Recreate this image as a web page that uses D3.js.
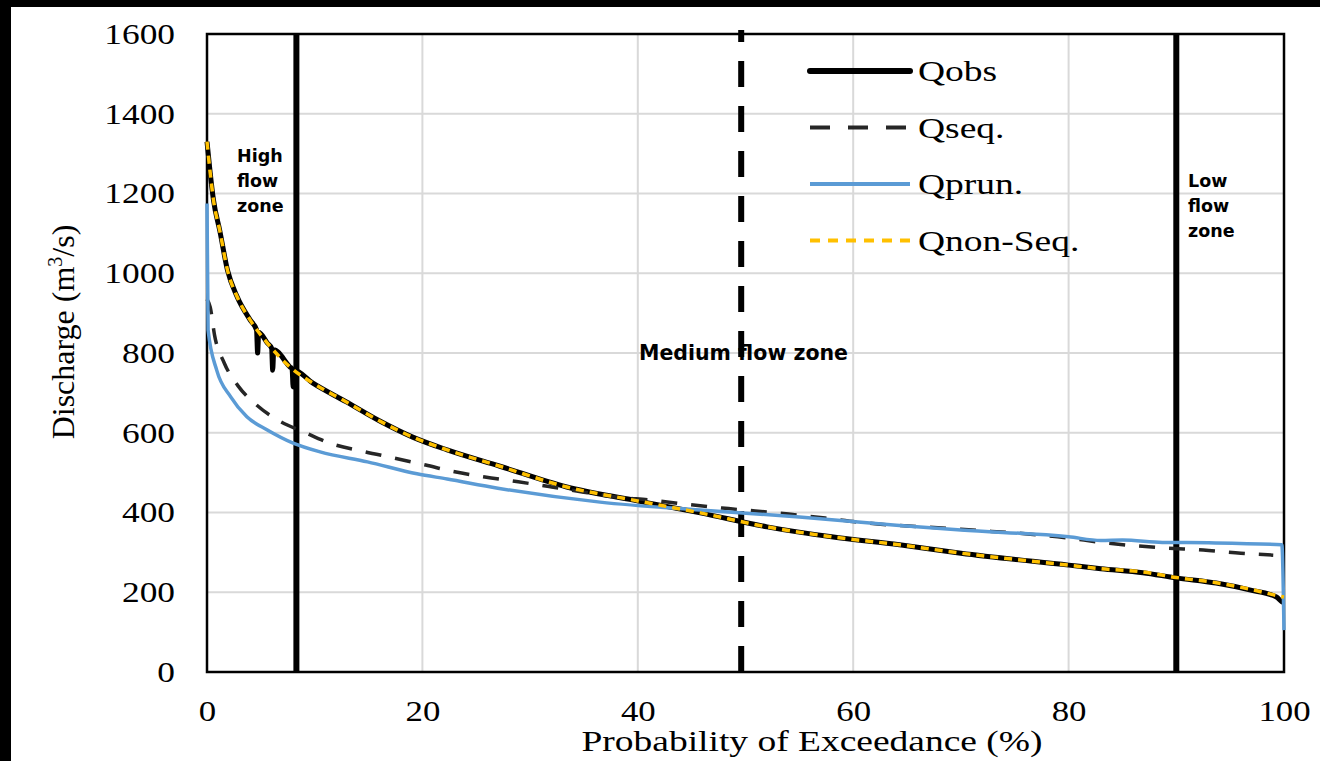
<!DOCTYPE html>
<html>
<head>
  <meta charset="utf-8" />
  <title>Flow duration curve</title>
  <style type="text/css">
    body { margin: 0; background: #000; }
    svg { display: block; }
  </style>
</head>
<body>
<div id="chart"></div>
<script src="https://d3js.org/d3.v7.min.js"></script>
<script>
// exceedance probability (%) , discharge (m3/s)
var qobs = [[0,1330],[0.3,1251],[0.6,1184],[1.2,1105],[1.9,1008],[2.8,941],[4.0,883],[4.6,858],[4.7,800],[4.8,852],
  [5.6,825],[6.0,812],[6.1,757],[6.2,808],[7.7,765],[7.9,760],[8.0,715],[8.1,757],[9.8,725],[12.9,678],[16.0,630],
  [19.1,589],[22.3,557],[27.2,516],[33.4,464],[39.6,431],[45.8,399],[52,364],[58,339],[64.3,319],[70,298],
  [80,268],[83,259],[86.9,249],[90,236],[93.7,223],[96.8,206],[99.3,188],[99.8,176],[100,174]];
var qseq = [[0,935],[0.3,915],[0.7,845],[1.6,775],[2.9,717],[4.5,672],[6.7,630],[9.0,602],[11.4,574],[14.7,552],
  [17.3,537],[20.3,519],[23,502],[25.8,489],[28.9,477],[32,464],[35,451],[38,439],[41.3,431],[44.4,421],
  [47.8,411],[50.9,404],[54,396],[57.4,386],[60.4,376],[70,358],[80,336],[83,325],[89,311],[92.5,306],
  [96,298],[99,293]];
var qprun = [[0,1175],[0.1,858],[0.9,757],[2.2,690],[3.7,640],[5.6,607],[8.0,574],[10.5,552],[14.9,527],
  [19.5,497],[22.3,484],[27,461],[36.5,426],[45.8,406],[55,389],[64,368],[70,356],[80,339],[83,330],
  [85,331],[88.7,325],[93,324],[99.8,319],[100,105]];
var qnonseq = [[0,1330],[0.3,1251],[0.6,1184],[1.2,1105],[1.9,1008],[2.8,941],[4.0,883],[5.6,825],[7.7,765],
  [9.8,725],[12.9,678],[16.0,630],[19.1,589],[22.3,557],[27.2,516],[33.4,464],[39.6,431],[45.8,399],[52,364],
  [58,339],[64.3,319],[70,298],[80,268],[83,259],[86.9,251],[90,237],[93.7,224],[96.8,208],[99.3,192],[100,188]];

var xTicks = [0, 20, 40, 60, 80, 100];
var yTicks = [0, 200, 400, 600, 800, 1000, 1200, 1400, 1600];
var zoneBounds = [8.3, 49.6, 90];
var legendNames = ["Qobs", "Qseq.", "Qprun.", "Qnon-Seq."];

var W = 1320, H = 761;
var margin = {top: 34, right: 36, bottom: 89, left: 207};
var w = W - margin.left - margin.right, h = H - margin.top - margin.bottom;

var svg = d3.select("#chart").append("svg").attr("width", W).attr("height", H);
// white page with black edge on top/left
svg.append("rect").attr("width", W).attr("height", H).attr("fill", "#000");
svg.append("rect").attr("x", 11).attr("y", 7).attr("width", W - 11).attr("height", H - 7).attr("fill", "#fff");

var g = svg.append("g").attr("transform", "translate(" + margin.left + "," + margin.top + ")");

var x = d3.scaleLinear().domain([0, 100]).range([0, w]);
var y = d3.scaleLinear().domain([0, 1600]).range([h, 0]);

// grid
g.append("g").selectAll("line").data(yTicks.slice(1, -1)).enter().append("line")
  .attr("x1", 0).attr("x2", w).attr("y1", y).attr("y2", y)
  .attr("stroke", "#d9d9d9").attr("stroke-width", 2);
g.append("g").selectAll("line").data(xTicks.slice(1, -1)).enter().append("line")
  .attr("y1", 0).attr("y2", h).attr("x1", x).attr("x2", x)
  .attr("stroke", "#d9d9d9").attr("stroke-width", 2);

// zone boundaries (middle one dashed, drawn from the bottom up)
g.append("g").selectAll("line").data(zoneBounds).enter().append("line")
  .attr("x1", x).attr("x2", x).attr("y1", h).attr("y2", function(d, i) { return i == 1 ? -4 : 0; })
  .attr("stroke", "#000").attr("stroke-width", 6)
  .attr("stroke-dasharray", function(d, i) { return i == 1 ? "26,19" : null; });

// plot frame
g.append("rect").attr("width", w).attr("height", h)
  .attr("fill", "none").attr("stroke", "#000").attr("stroke-width", 2.5);

var line = d3.line().x(function(d) { return x(d[0]); }).y(function(d) { return y(d[1]); })
  .curve(d3.curveMonotoneX);

var series = [
  {name: "Qobs", data: qobs, color: "#000", width: 5, dash: null},
  {name: "Qseq.", data: qseq, color: "#262626", width: 3.5, dash: "16,14"},
  {name: "Qprun.", data: qprun, color: "#5b9bd5", width: 3.5, dash: null},
  {name: "Qnon-Seq.", data: qnonseq, color: "#ffc000", width: 3.5, dash: "8,6"}
];

g.selectAll(".series").data(series).enter().append("path")
  .attr("class", "series")
  .attr("d", function(d) { return line(d.data); })
  .attr("fill", "none")
  .attr("stroke", function(d) { return d.color; })
  .attr("stroke-width", function(d) { return d.width; })
  .attr("stroke-dasharray", function(d) { return d.dash; });

// axes
var serif = "'Liberation Serif', 'Times New Roman', serif";
var yAxis = g.append("g").call(d3.axisLeft(y).tickValues(yTicks).tickSize(0).tickFormat(d3.format("d")));
yAxis.select(".domain").remove();
yAxis.selectAll("text")
  .attr("font-family", serif).attr("font-size", 29).attr("fill", "#000")
  .attr("x", -32 / 1.22).attr("dy", "0.32em")
  .attr("transform", "scale(1.22,1)");

var xAxis = g.append("g").attr("transform", "translate(0," + h + ")")
  .call(d3.axisBottom(x).tickValues(xTicks).tickSize(0));
xAxis.select(".domain").remove();
xAxis.selectAll("text")
  .attr("font-family", serif).attr("font-size", 29).attr("fill", "#000")
  .attr("y", 28).attr("dy", "0.71em")
  .attr("transform", "scale(1.2,1)");

// axis titles
svg.append("text")
  .attr("transform", "translate(812,751) scale(1.25,1)")
  .attr("text-anchor", "middle")
  .attr("font-family", serif).attr("font-size", 30)
  .text("Probability of Exceedance  (%)");

var yt = svg.append("text")
  .attr("transform", "translate(74,332) rotate(-90)")
  .attr("text-anchor", "middle")
  .attr("font-family", serif).attr("font-size", 32);
yt.append("tspan").text("Discharge (m");
yt.append("tspan").attr("font-size", 20).attr("dy", -12).text("3");
yt.append("tspan").attr("dy", 12).text("/s)");

// legend
var legend = g.append("g").attr("transform", "translate(" + (810 - margin.left) + "," + (71 - margin.top) + ")");
var li = legend.selectAll("g").data(series).enter().append("g")
  .attr("transform", function(d, i) { return "translate(0," + (i * 56.5) + ")"; });
li.append("line").attr("x1", 0).attr("x2", 100)
  .attr("stroke", function(d) { return d.color; })
  .attr("stroke-width", function(d, i) { return i == 0 ? 6 : 4; })
  .attr("stroke-linecap", function(d, i) { return i == 0 ? "round" : null; })
  .attr("stroke-dasharray", function(d, i) { return i == 1 ? "20,18" : (i == 3 ? "10,8" : null); });
li.append("text")
  .attr("transform", "translate(108,10) scale(1.25,1)")
  .attr("font-family", serif).attr("font-size", 30)
  .text(function(d, i) { return legendNames[i]; });

// zone labels
var sans = "'DejaVu Sans', sans-serif";
function zoneLabel(lines, px, py, size) {
  var t = svg.append("text").attr("font-family", sans).attr("font-weight", "bold")
    .attr("font-size", size).attr("fill", "#000");
  lines.forEach(function(s, i) {
    t.append("tspan").attr("x", px).attr("y", py + i * 25).text(s);
  });
}
zoneLabel(["High", "flow", "zone"], 237, 162, 17.5);
zoneLabel(["Low", "flow", "zone"], 1188, 187, 17.5);
zoneLabel(["Medium flow zone"], 639, 360, 20.5);
</script>
</body>
</html>
